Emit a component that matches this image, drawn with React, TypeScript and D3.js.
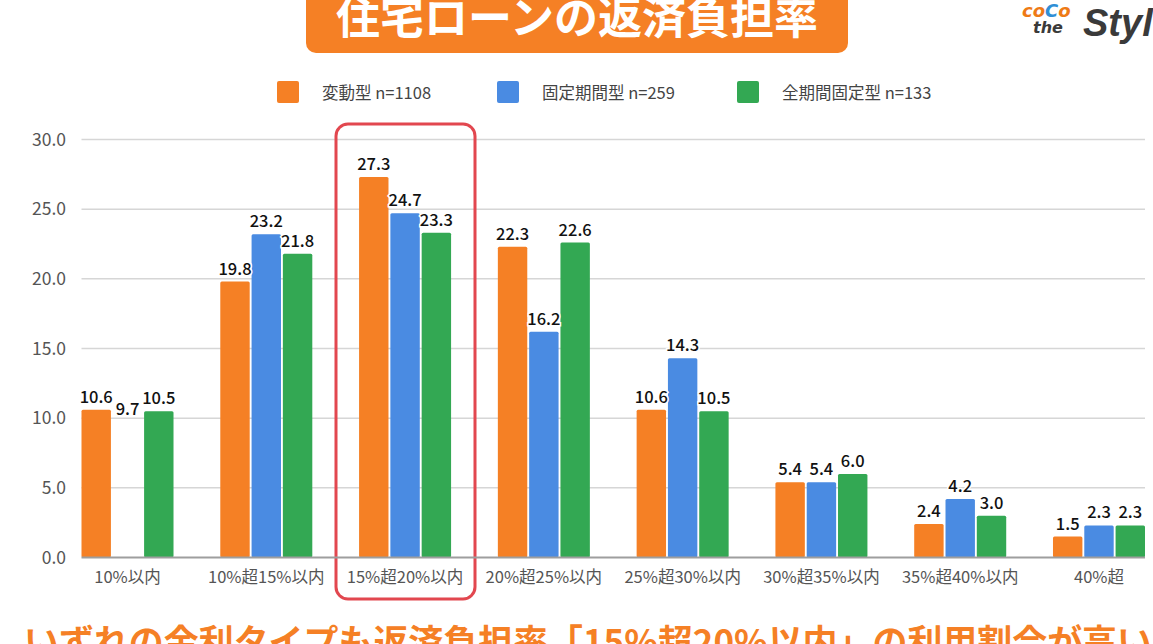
import React, { useEffect, useRef } from 'react';
import * as d3 from 'd3';

// categories (返済負担率の区分)
const categories = [
    '10%以内', '10%超15%以内', '15%超20%以内', '20%超25%以内',
    '25%超30%以内', '30%超35%以内', '35%超40%以内', '40%超',
];

const seriesNames = ['変動型 n=1108', '固定期間型 n=259', '全期間固定型 n=133'];
const seriesColors = ['#f58025', '#4a8be2', '#33a853'];

const variableRate = [10.6, 19.8, 27.3, 22.3, 10.6, 5.4, 2.4, 1.5];
const fixedPeriod = [9.7, 23.2, 24.7, 16.2, 14.3, 5.4, 4.2, 2.3];
const fullFixed = [10.5, 21.8, 23.3, 22.6, 10.5, 6.0, 3.0, 2.3];

// the original leaves out the bar (label only) for this cell
const hiddenBars = [[1, 0]];

const yTicks = [0, 5, 10, 15, 20, 25, 30];

const FONT = "'Noto Sans CJK JP', 'Noto Sans', sans-serif";

const App: React.FC = () => {
    const ref = useRef<SVGSVGElement>(null);

    useEffect(() => {
        if (!ref.current) return;
        const svg = d3.select(ref.current);
        svg.selectAll('*').remove();

        const W = 1153, H = 644;
        const left = 81.5, right = 1145, top = 139.5, bottom = 557.5;

        svg.append('rect').attr('width', W).attr('height', H).attr('fill', '#fff');

        // title
        svg.append('rect')
            .attr('x', 306).attr('y', -20).attr('width', 542).attr('height', 73)
            .attr('rx', 10).attr('fill', '#f58025');
        svg.append('text')
            .attr('x', 577).attr('y', 34)
            .attr('text-anchor', 'middle')
            .attr('font-family', FONT).attr('font-weight', 700).attr('font-size', 44)
            .attr('fill', '#fff')
            .text('住宅ローンの返済負担率');

        // logo (cropped at the right edge)
        const logo = svg.append('g').attr('font-weight', 700).attr('font-style', 'italic');
        const coco = logo.append('text').attr('x', 1022).attr('y', 17)
            .attr('font-family', "'DejaVu Sans', sans-serif").attr('font-size', 18);
        coco.append('tspan').attr('fill', '#ee7a16').text('co');
        coco.append('tspan').attr('fill', '#2e8fd6').text('C');
        coco.append('tspan').attr('fill', '#ee7a16').text('o');
        logo.append('text').attr('x', 1033).attr('y', 33).attr('font-size', 16)
            .attr('font-family', "'DejaVu Sans', sans-serif")
            .attr('fill', '#3a3a3a').text('the');
        logo.append('text').attr('x', 1083).attr('y', 36).attr('font-size', 38)
            .attr('font-family', "'Liberation Sans', sans-serif")
            .attr('fill', '#3a3a3a').text('Styl');

        // legend
        const legendX = [277, 497, 737];
        seriesNames.forEach((name, i) => {
            svg.append('rect')
                .attr('x', legendX[i]).attr('y', 81).attr('width', 22).attr('height', 22)
                .attr('rx', 2).attr('fill', seriesColors[i]);
            svg.append('text')
                .attr('x', legendX[i] + 45).attr('y', 98.5)
                .attr('font-family', FONT).attr('font-size', 16.5).attr('fill', '#444')
                .text(name);
        });

        const x = d3.scaleBand<string>()
            .domain(categories)
            .range([left, right])
            .paddingInner(0.337)
            .paddingOuter(0);

        const sub = d3.scaleBand<number>()
            .domain([0, 1, 2])
            .range([0, x.bandwidth()])
            .paddingInner(0.06);

        const y = d3.scaleLinear().domain([0, 30]).range([bottom, top]);

        // grid + y labels
        yTicks.forEach(t => {
            if (t > 0) {
                svg.append('line')
                    .attr('x1', left).attr('x2', right)
                    .attr('y1', y(t)).attr('y2', y(t))
                    .attr('stroke', '#d6d6d6').attr('stroke-width', 1.5);
            }
            svg.append('text')
                .attr('x', 66).attr('y', y(t) + 6)
                .attr('text-anchor', 'end')
                .attr('font-family', FONT).attr('font-size', 17.5).attr('fill', '#555')
                .text(t.toFixed(1));
        });

        // highlight box
        svg.append('rect')
            .attr('x', 336).attr('y', 124).attr('width', 139).attr('height', 475)
            .attr('rx', 12).attr('fill', 'none')
            .attr('stroke', '#e2474f').attr('stroke-width', 3);

        const series = [variableRate, fixedPeriod, fullFixed];
        const isHidden = (s: number, c: number) => hiddenBars.some(([a, b]) => a === s && b === c);

        series.forEach((vals, s) => {
            vals.forEach((v, c) => {
                const bx = (x(categories[c]) || 0) + (sub(s) || 0);
                if (!isHidden(s, c)) {
                    svg.append('rect')
                        .attr('x', bx).attr('y', y(v))
                        .attr('width', sub.bandwidth())
                        .attr('height', bottom - y(v))
                        .attr('rx', 1.5)
                        .attr('fill', seriesColors[s]);
                }
            });
        });

        // baseline
        svg.append('line')
            .attr('x1', left).attr('x2', right)
            .attr('y1', y(0)).attr('y2', y(0))
            .attr('stroke', '#9e9e9e').attr('stroke-width', 2);

        // value labels
        series.forEach((vals, s) => {
            vals.forEach((v, c) => {
                const bx = (x(categories[c]) || 0) + (sub(s) || 0);
                svg.append('text')
                    .attr('x', bx + sub.bandwidth() / 2).attr('y', y(v) - 7)
                    .attr('text-anchor', 'middle')
                    .attr('font-family', FONT).attr('font-size', 16.5).attr('font-weight', 500)
                    .attr('fill', '#111')
                    .attr('stroke', '#fff').attr('stroke-width', 3)
                    .attr('paint-order', 'stroke')
                    .text(v.toFixed(1));
            });
        });

        // x labels
        categories.forEach(cat => {
            svg.append('text')
                .attr('x', (x(cat) || 0) + x.bandwidth() / 2).attr('y', 583)
                .attr('text-anchor', 'middle')
                .attr('font-family', FONT).attr('font-size', 16.5).attr('fill', '#555')
                .text(cat);
        });

        // bottom caption (cropped)
        svg.append('text')
            .attr('x', 24).attr('y', 655)
            .attr('font-family', FONT).attr('font-weight', 700).attr('font-size', 35)
            .attr('fill', '#f58025')
            .attr('textLength', 1128).attr('lengthAdjust', 'spacingAndGlyphs')
            .text('いずれの金利タイプも返済負担率「15%超20%以内」の利用割合が高い');
    }, []);

    return (
        <svg ref={ref} width={1153} height={644}
            style={{ position: 'absolute', left: 0, top: 0 }} />
    );
};

export default App;
